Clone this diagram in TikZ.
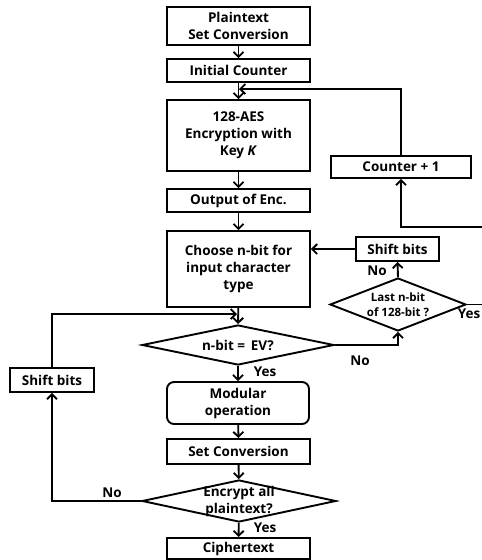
\documentclass[tikz,border=0pt]{standalone}
\usepackage{fontspec}
\setmainfont{Open Sans}
\usetikzlibrary{shapes.geometric,arrows.meta}
\begin{document}
\begin{tikzpicture}[x=1pt,y=-1pt,
  font=\fontsize{13.5}{17}\selectfont\bfseries,
  every path/.style={line width=1.9pt},
  box/.style={draw,line width=1.9pt,minimum width=143pt,inner sep=0pt,align=center},
  dia/.style={draw,line width=1.9pt,diamond,inner sep=0pt},
  arr/.style={-{Straight Barb[length=5pt,width=10pt,line width=1.8pt]}},
  lbl/.style={inner sep=0pt,align=center}]
\useasboundingbox (0,0) rectangle (482,560);
% main column
\node[box,minimum height=38pt] (p1) at (238.5,26) {Plaintext\\Set Conversion};
\node[box,minimum height=23pt] (ic) at (238.5,70.5) {Initial Counter};
\node[box,minimum height=71pt] (aes) at (238.5,135.5) {128-AES\\Encryption with\\Key \textit{K}};
\node[box,minimum height=23pt] (out) at (238.5,200.5) {Output of Enc.};
\node[box,minimum height=76pt] (ch) at (238.5,269) {Choose n-bit for\\input character\\type};
\node[dia,minimum width=192pt,minimum height=40pt] (d1) at (238,345) {};
\node[lbl] (d1t) at (238,345) {n-bit = \,EV?};
\node[box,rounded corners=7pt,minimum width=142pt,minimum height=42pt] (mod) at (238,403) {Modular\\operation};
\node[box,minimum height=25pt] (set) at (238.5,451.5) {Set Conversion};
\node[dia,minimum width=194pt,minimum height=42pt] (d2) at (239,501) {};
\node[lbl] (d2t) at (239,501) {Encrypt all\\plaintext?};
\node[box,minimum height=21pt] (ci) at (238.5,548.5) {Ciphertext};
% side nodes
\node[box,minimum width=84pt,minimum height=24pt] (sbl) at (52,380) {Shift bits};
\node[dia,minimum width=136pt,minimum height=53pt] (d3) at (398,304.5) {};
\node[lbl,font=\fontsize{11.5}{15}\selectfont\bfseries] (d3t) at (398,305) {Last n-bit\\of 128-bit ?};
\node[box,minimum width=83pt,minimum height=24pt] (sbr) at (397.5,249) {Shift bits};
\node[box,minimum width=140pt,minimum height=22pt] (cnt) at (401,167) {Counter + 1};
\coordinate (cin) at (239,89);
\coordinate (lin) at (237,314);
% main arrows
\draw[arr] (p1) -- (ic);
\draw[arr] (ic) -- (aes);
\draw[arr] (aes) -- (out);
\draw[arr] (out) -- (ch);
\draw[arr] (ch) -- (d1);
\draw[arr] (d1) -- (mod);
\draw[arr] (mod) -- (set);
\draw[arr] (set) -- (d2);
\draw[arr] (d2) -- (ci);
% loops
\draw[arr] (cnt.north) |- (cin);
\draw[arr] (d1.east) -| (d3.south);
\draw[arr] (d3.north) -- (sbr.south);
\draw[arr] (sbr.west) -- (ch.east |- sbr.west);
\draw[arr] (d3.east) -- (488,304.5) -- (488,227) -| (cnt.south);
\draw[arr] (d2.west) -| (sbl.south);
\draw[arr] (sbl.north) |- (lin);
% labels
\node[lbl] (y1) at (265,372) {Yes};
\node[lbl] (y2) at (265,528) {Yes};
\node[lbl] (n1) at (360,361) {No};
\node[lbl] (n2) at (377,271) {No};
\node[lbl] (n3) at (112,493) {No};
\node[lbl] (y3) at (469,314) {Yes};
\end{tikzpicture}
\end{document}
